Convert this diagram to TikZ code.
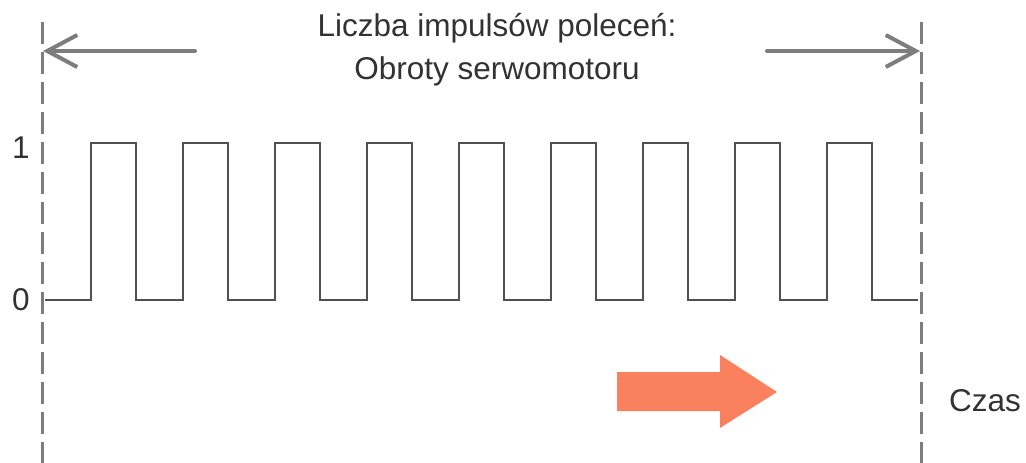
\documentclass[tikz,border=0pt]{standalone}
\usepackage{fontspec}
\setmainfont{Liberation Sans}
\usetikzlibrary{arrows.meta}
\definecolor{guide}{RGB}{125,125,125}
\definecolor{pulse}{RGB}{80,80,80}
\definecolor{txt}{RGB}{50,50,50}
\definecolor{coral}{RGB}{250,128,94}
\tikzset{
  guideline/.style={draw=guide,line width=3pt,dash pattern=on 22pt off 8pt},
  spanarrow/.style={draw=guide,line width=4pt,line cap=round,-{Straight Barb[length=30pt,width=32pt,line width=4pt]}},
  pulseline/.style={draw=pulse,line width=2.4pt,line join=miter},
  lbl/.style={text=txt,font=\fontsize{31.5}{43}\selectfont,inner sep=0pt},
}
\begin{document}
\begin{tikzpicture}[x=1pt,y=-1pt]
\useasboundingbox (0,0) rectangle (1026,463);
% guides
\coordinate (gLt) at (42,22); \coordinate (gLb) at (42,463);
\coordinate (gRt) at (921,22); \coordinate (gRb) at (921,463);
\draw[guideline] (gLt) -- (gLb);
\draw[guideline] (gRt) -- (gRb);
% span arrows
\coordinate (aLs) at (195,51); \coordinate (aLe) at (43,51);
\coordinate (aRs) at (767,51); \coordinate (aRe) at (920,51);
\draw[spanarrow] (aLs) -- (aLe);
\draw[spanarrow] (aRs) -- (aRe);
% title
\node[lbl,align=center] (title) at (497,50) {Liczba impulsów poleceń:\\Obroty serwomotoru};
% level labels
\node[lbl] (one) at (21,148) {1};
\node[lbl] (zero) at (21,300) {0};
% pulse train
\draw[pulseline] (45,300)
  \foreach \k in {0,...,8} {
    -- ({91+92*\k},300) -- ({91+92*\k},143) -- ({136+92*\k},143) -- ({136+92*\k},300)
  } -- (918,300);
% time arrow
\fill[coral] (617,372) -- (720,372) -- (720,355) -- (777,392) -- (720,428) -- (720,411) -- (617,411) -- cycle;
\node[lbl,anchor=west] (czas) at (949,401) {Czas};
\end{tikzpicture}
\end{document}
